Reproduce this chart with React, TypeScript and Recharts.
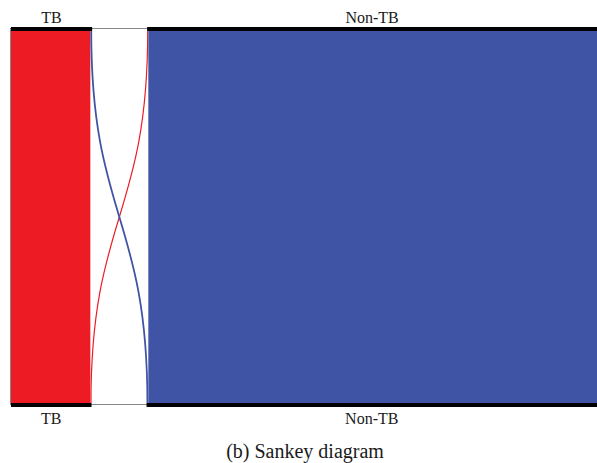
import React from 'react';
import { Sankey } from 'recharts';

// top row = one grouping, bottom row = the other; nodes are listed top first
const nodeNames = ['TB', 'Non-TB', 'TB', 'Non-TB'];
const nodeSide = ['top', 'top', 'bottom', 'bottom'];

const linkSources = [0, 1, 0, 1];
const linkTargets = [2, 2, 3, 3];
const linkValues = [400, 6, 9, 2262];
const linkColors = ['#ED1C24', '#ED1C24', '#3F54A4', '#3F54A4'];

const W = 597;
const H = 463;
// screen placement of the flow area
const TOP = 27;
const BOTTOM = 407;
const LEFT = 11;

const data = {
  nodes: nodeNames.map(name => ({ name })),
  links: linkSources.map((s, i) => ({ source: s, target: linkTargets[i], value: linkValues[i] })),
};

const serif = 'Liberation Serif, DejaVu Serif, serif';

// the sankey is laid out left-to-right and transposed with CSS, so labels get the inverse transform
function FlowNode(props: any) {
  const { x, y, width, height, index, payload } = props;
  const top = nodeSide[index] === 'top';
  return (
    <g>
      <rect x={x} y={y} width={width} height={height} fill="#000" />
      <text
        transform="matrix(0 1 1 0 0 0)"
        x={y + height / 2}
        y={top ? 22.5 : 424}
        textAnchor="middle"
        style={{ fontFamily: serif, fontSize: 16 }}
        fill="#1a1a1a"
      >
        {payload.name}
      </text>
    </g>
  );
}

function FlowLink(props: any) {
  const { sourceX, targetX, sourceY, targetY, sourceControlX, targetControlX, linkWidth, index } = props;
  return (
    <path
      d={`M${sourceX},${sourceY}C${sourceControlX},${sourceY} ${targetControlX},${targetY} ${targetX},${targetY}`}
      fill="none"
      stroke={linkColors[index]}
      strokeWidth={linkWidth}
    />
  );
}

export default function App() {
  return (
    <div style={{ position: 'absolute', left: 0, top: 0, width: W, height: H, overflow: 'hidden', background: '#fff' }}>
      <svg width={W} height={H} style={{ position: 'absolute', left: 0, top: 0 }}>
        <rect x={10.5} y={28.5} width={W} height={376} fill="none" stroke="#888" strokeWidth={1} />
        <text x={305} y={458} textAnchor="middle" style={{ fontFamily: serif, fontSize: 20 }} fill="#1a1a1a">
          (b) Sankey diagram
        </text>
      </svg>
      <div style={{ position: 'absolute', left: 0, top: 0, transform: 'matrix(0,1,1,0,0,0)', transformOrigin: '0 0' }}>
        <Sankey
          width={H}
          height={W}
          data={data}
          margin={{ left: TOP, right: H - BOTTOM, top: LEFT, bottom: 0 }}
          nodeWidth={4}
          nodePadding={55}
          iterations={0}
          node={FlowNode}
          link={FlowLink}
        />
      </div>
    </div>
  );
}
